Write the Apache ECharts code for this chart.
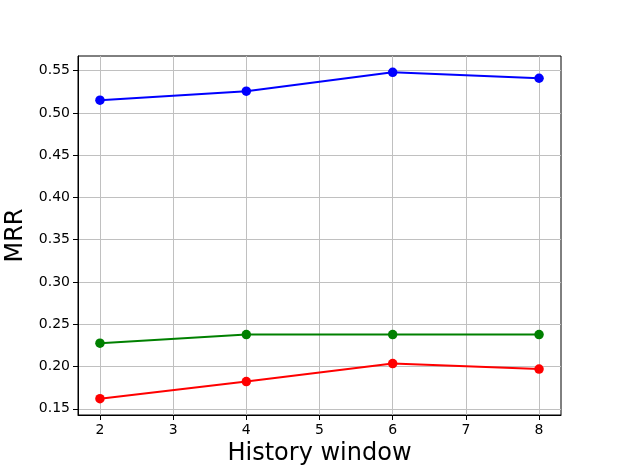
<!DOCTYPE html>
<html>
<head>
<meta charset="utf-8">
<script src="https://cdn.jsdelivr.net/npm/echarts@6/dist/echarts.min.js"></script>
<style>
html,body{margin:0;padding:0;background:#fff;}
#c{width:623px;height:467px;}
</style>
</head>
<body>
<div id="c"></div>
<script>
const historyWindow = [2, 4, 6, 8];
const seriesBlue = [0.515, 0.5257, 0.548, 0.541];
const seriesGreen = [0.2276, 0.2378, 0.2378, 0.2378];
const seriesRed = [0.162, 0.1823, 0.2035, 0.197];
const xTicks = [2, 3, 4, 5, 6, 7, 8];
const yTicks = [0.15, 0.20, 0.25, 0.30, 0.35, 0.40, 0.45, 0.50, 0.55];

const font = 'DejaVu Sans';
const chart = echarts.init(document.getElementById('c'), null, {renderer: 'canvas'});

function mk(vals, color) {
  return {
    type: 'line',
    data: historyWindow.map((x, i) => [x, vals[i]]),
    symbol: 'circle',
    symbolSize: 9.5,
    lineStyle: {color: color, width: 2},
    itemStyle: {color: color},
    animation: false,
    z: 5
  };
}

chart.setOption({
  backgroundColor: '#fff',
  animation: false,
  grid: {left: 78, right: 62, top: 56, bottom: 52, show: true, borderColor: '#000', borderWidth: 1,
    backgroundColor: 'transparent', containLabel: false, outerBoundsMode: 'none'},
  xAxis: {
    type: 'value',
    min: 1.7, max: 8.3,
    name: 'History window',
    nameLocation: 'middle',
    nameGap: 25,
    nameTextStyle: {fontFamily: font, fontSize: 24, color: '#000'},
    axisLine: {show: true, onZero: false, lineStyle: {color: '#000', width: 1}},
    axisTick: {show: true, inside: false, length: 5, lineStyle: {color: '#000'}, customValues: xTicks},
    axisLabel: {fontFamily: font, fontSize: 14, color: '#000', margin: 8, customValues: xTicks,
      formatter: v => String(v)},
    splitLine: {show: true, lineStyle: {color: '#c0c0c0', width: 1}}
  },
  yAxis: {
    type: 'value',
    min: 0.1427, max: 0.5673,
    name: 'MRR',
    nameLocation: 'middle',
    nameGap: 50,
    nameTextStyle: {fontFamily: font, fontSize: 24, color: '#000'},
    axisLine: {show: true, onZero: false, lineStyle: {color: '#000', width: 1}},
    axisTick: {show: true, inside: false, length: 5, lineStyle: {color: '#000'}, customValues: yTicks},
    axisLabel: {fontFamily: font, fontSize: 14, color: '#000', margin: 8, customValues: yTicks,
      formatter: v => v.toFixed(2)},
    splitLine: {show: true, lineStyle: {color: '#c0c0c0', width: 1}}
  },
  series: [mk(seriesBlue, '#0000ff'), mk(seriesGreen, '#008000'), mk(seriesRed, '#ff0000')]
});
</script>
</body>
</html>
